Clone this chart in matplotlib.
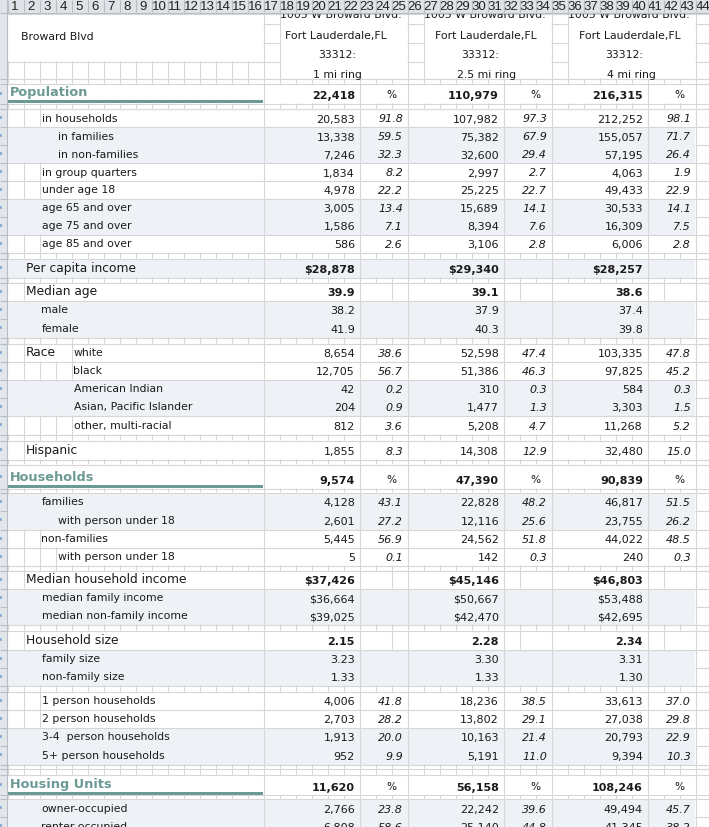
import matplotlib
matplotlib.use('Agg')
import matplotlib.pyplot as plt
from matplotlib.patches import Rectangle
from matplotlib.collections import LineCollection

# ---- data ----
address = '1005 W Broward Blvd:'
city = 'Fort Lauderdale,FL'
zipcode = '33312:'
rings = ['1 mi ring', '2.5 mi ring', '4 mi ring']
site_label = 'Broward Blvd'

pop_total = [22418, 110979, 216315]
pop_labels = ['in households', 'in families', 'in non-families', 'in group quarters',
              'under age 18', 'age 65 and over', 'age 75 and over', 'age 85 and over']
pop_counts = [[20583, 13338, 7246, 1834, 4978, 3005, 1586, 586],
              [107982, 75382, 32600, 2997, 25225, 15689, 8394, 3106],
              [212252, 155057, 57195, 4063, 49433, 30533, 16309, 6006]]
pop_pct = [[91.8, 59.5, 32.3, 8.2, 22.2, 13.4, 7.1, 2.6],
           [97.3, 67.9, 29.4, 2.7, 22.7, 14.1, 7.6, 2.8],
           [98.1, 71.7, 26.4, 1.9, 22.9, 14.1, 7.5, 2.8]]

per_capita_income = [28878, 29340, 28257]
median_age = [39.9, 39.1, 38.6]
median_age_male = [38.2, 37.9, 37.4]
median_age_female = [41.9, 40.3, 39.8]

race_labels = ['white', 'black', 'American Indian', 'Asian, Pacific Islander', 'other, multi-racial']
race_counts = [[8654, 12705, 42, 204, 812],
               [52598, 51386, 310, 1477, 5208],
               [103335, 97825, 584, 3303, 11268]]
race_pct = [[38.6, 56.7, 0.2, 0.9, 3.6],
            [47.4, 46.3, 0.3, 1.3, 4.7],
            [47.8, 45.2, 0.3, 1.5, 5.2]]
hispanic = [1855, 14308, 32480]
hispanic_pct = [8.3, 12.9, 15.0]

hh_total = [9574, 47390, 90839]
hh_labels = ['families', 'with person under 18', 'non-families', 'with person under 18']
hh_counts = [[4128, 2601, 5445, 5],
             [22828, 12116, 24562, 142],
             [46817, 23755, 44022, 240]]
hh_pct = [[43.1, 27.2, 56.9, 0.1],
          [48.2, 25.6, 51.8, 0.3],
          [51.5, 26.2, 48.5, 0.3]]
median_hh_income = [37426, 45146, 46803]
median_family_income = [36664, 50667, 53488]
median_nonfamily_income = [39025, 42470, 42695]
hh_size = [2.15, 2.28, 2.34]
family_size = [3.23, 3.30, 3.31]
nonfamily_size = [1.33, 1.33, 1.30]

size_labels = ['1 person households', '2 person households', '3-4  person households', '5+ person households']
size_counts = [[4006, 2703, 1913, 952],
               [18236, 13802, 10163, 5191],
               [33613, 27038, 20793, 9394]]
size_pct = [[41.8, 28.2, 20.0, 9.9],
            [38.5, 29.1, 21.4, 11.0],
            [37.0, 29.8, 22.9, 10.3]]

housing_total = [11620, 56158, 108246]
housing_labels = ['owner-occupied', 'renter-occupied']
housing_counts = [[2766, 6808], [22242, 25140], [49494, 41345]]
housing_pct = [[23.8, 58.6], [39.6, 44.8], [45.7, 38.2]]

# ---- look ----
W, H = 709, 828
GRID = '#d6d6d6'
SHADE = '#eef1f6'
TEAL = '#6b9a94'
TXT = '#1a1a1a'
FONT = 'DejaVu Sans'


def cx(k):
    # left edge of spreadsheet column k (1-based), 16 px columns
    return 7 + 16 * (k - 1)


VAL_CELLS = [(cx(17), cx(23)), (cx(26), cx(32)), (cx(35), cx(41))]
PCT_CELLS = [(cx(23), cx(26)), (cx(32), cx(35)), (cx(41), cx(44))]
RIGHT_LINES = [cx(17), cx(23), cx(26), cx(32), cx(35), cx(41), cx(44), cx(45)]
EMPTY_PCT_LINES = [cx(25), cx(33), cx(42)]
PCT_MARK_X = [391, 535, 679]


def count(v):
    return f'{v:,}'


def money(v):
    return f'${v:,}'


def one(v):
    return f'{v:.1f}'


def two(v):
    return f'{v:.2f}'


def col(series, i):
    return [s[i] for s in series]


# ---- build the row list ----
rows = []


def spacer(h):
    rows.append(dict(kind='spacer', h=h))


def title(label, totals, h):
    rows.append(dict(kind='title', h=h, label=label, vals=[count(v) for v in totals]))


def line(label, indent, vals, h=18, pcts=None, shade=False, heading=False, bold=False, pre=None):
    rows.append(dict(kind='data', h=h, label=label, indent=indent, vals=vals,
                     pcts=[one(p) for p in pcts] if pcts else None,
                     shade=shade, heading=heading, bold=bold, pre=pre))


spacer(5)
title('Population', pop_total, 20)
spacer(5)
for i, lab in enumerate(pop_labels):
    line(lab, [3, 4, 4, 3, 3, 3, 3, 3][i], [count(v) for v in col(pop_counts, i)],
         pcts=col(pop_pct, i), shade=i in (1, 2, 5, 6))
spacer(6)
line('Per capita income', 2, [money(v) for v in per_capita_income], h=19, shade=True, heading=True, bold=True)
spacer(5)
line('Median age', 2, [one(v) for v in median_age], heading=True, bold=True)
line('male', 3, [one(v) for v in median_age_male], shade=True)
line('female', 3, [one(v) for v in median_age_female], h=19, shade=True)
spacer(6)
for i, lab in enumerate(race_labels):
    line(lab, 5, [count(v) for v in col(race_counts, i)], h=19 if i == 4 else 18,
         pcts=col(race_pct, i), shade=i in (2, 3), pre='Race' if i == 0 else None)
spacer(6)
line('Hispanic', 2, [count(v) for v in hispanic], h=19, pcts=hispanic_pct, heading=True)
spacer(5)
title('Households', hh_total, 24)
spacer(4)
for i, lab in enumerate(hh_labels):
    line(lab, [3, 4, 3, 4][i], [count(v) for v in col(hh_counts, i)], h=19 if i == 1 else 18,
         pcts=col(hh_pct, i), shade=i in (0, 1))
spacer(5)
line('Median household income', 2, [money(v) for v in median_hh_income], heading=True, bold=True)
line('median family income', 3, [money(v) for v in median_family_income], shade=True)
line('median non-family income', 3, [money(v) for v in median_nonfamily_income], shade=True)
spacer(6)
line('Household size', 2, [two(v) for v in hh_size], h=19, heading=True, bold=True)
line('family size', 3, [two(v) for v in family_size], shade=True)
line('non-family size', 3, [two(v) for v in nonfamily_size], shade=True)
spacer(6)
for i, lab in enumerate(size_labels):
    line(lab, 3, [count(v) for v in col(size_counts, i)], h=19 if i == 3 else 18,
         pcts=col(size_pct, i), shade=i in (2, 3))
spacer(5)
spacer(6)
title('Housing Units', housing_total, 20)
spacer(4)
for i, lab in enumerate(housing_labels):
    line(lab, 3, [count(v) for v in col(housing_counts, i)], pcts=col(housing_pct, i), shade=True)

# ---- draw ----
fig = plt.figure(figsize=(W / 100, H / 100), dpi=100)
ax = fig.add_axes([0, 0, 1, 1])
ax.set_xlim(0, W)
ax.set_ylim(H, 0)
ax.axis('off')

segs = []


def hline(y, x0, x1):
    segs.append([(x0, y + 0.5), (x1, y + 0.5)])


def vline(x, y0, y1):
    segs.append([(x + 0.5, y0), (x + 0.5, y1)])


# header block (rows 14-79)
for y in (24, 43, 62):
    for a, b in [(cx(17), cx(18)), (cx(26), cx(27)), (cx(35), cx(36)), (cx(44), cx(45))]:
        hline(y, a, b)
hline(62, cx(1), cx(17))
hline(14, cx(1), cx(45))
for x in [cx(17), cx(18), cx(26), cx(27), cx(35), cx(36), cx(44)]:
    vline(x, 14, 79)
for k in range(1, 17):
    vline(cx(k), 62, 79)

ax.text(21, 39.5, site_label, fontsize=7.8, family=FONT, color=TXT, va='baseline', zorder=3)
clip = Rectangle((0, 14), W, 65, transform=ax.transData)
for j in range(3):
    for txt, xc, yb in [(address, [341, 485, 629][j], 18.5),
                        (city, [336, 486, 630][j], 38.5),
                        (zipcode, [337, 480, 624][j], 58.3),
                        (rings[j], [337, 487, 631][j], 77.5)]:
        t = ax.text(xc, yb, txt, fontsize=7.8, family=FONT, color=TXT, ha='center', va='baseline', zorder=3)
        t.set_clip_path(clip)

# body rows
y = 79
for r in rows:
    r['y0'], r['y1'] = y, y + r['h']
    y = r['y1']

for n, r in enumerate(rows):
    y0, y1 = r['y0'], r['y1']
    prev_shade = n > 0 and rows[n - 1].get('shade', False)
    top_x0 = cx(44) if (r.get('shade') and prev_shade) else cx(1)
    hline(y0, top_x0, cx(45))

    if r['kind'] == 'spacer':
        for k in range(1, 46):
            vline(cx(k), y0, y1)
        continue

    for x in RIGHT_LINES:
        vline(x, y0, y1)

    if r['kind'] == 'title':
        ax.text(cx(1) + 3, y1 - 8, r['label'], fontsize=9.3, fontweight='bold', family=FONT,
                color=TEAL, va='baseline', zorder=3)
        ax.add_patch(Rectangle((cx(1), y1 - 3), cx(17) - cx(1), 2.6, color=TEAL, lw=0, zorder=2))
        for j in range(3):
            ax.text(VAL_CELLS[j][1] - 4, y1 - 5, r['vals'][j], fontsize=8, fontweight='bold',
                    family=FONT, color=TXT, ha='right', va='baseline', zorder=3)
            ax.text(PCT_MARK_X[j], y1 - 5.5, '%', fontsize=7.6, family=FONT, color=TXT,
                    ha='center', va='baseline', zorder=3)
        continue

    if r['shade']:
        ax.add_patch(Rectangle((cx(1), y0 + 0.5), cx(44) - cx(1), y1 - y0, color=SHADE, lw=0, zorder=0))
    else:
        left_cols = [2, 5] if r['pre'] else range(2, r['indent'] + 1)
        for k in left_cols:
            vline(cx(k), y0, y1)
        if not r['pcts']:
            for x in EMPTY_PCT_LINES:
                vline(x, y0, y1)

    if r['pre']:
        ax.text(cx(2) + 2.5, y1 - 5.5, r['pre'], fontsize=8.8, family=FONT, color=TXT, va='baseline', zorder=3)
    size = 8.8 if r['heading'] else 7.8
    ax.text(cx(r['indent']) + 2.5, y1 - 5.5, r['label'], fontsize=size, family=FONT, color=TXT,
            va='baseline', zorder=3)
    for j in range(3):
        ax.text(VAL_CELLS[j][1] - 4, y1 - 4.5, r['vals'][j], fontsize=8,
                fontweight='bold' if r['bold'] else 'normal', family=FONT, color=TXT,
                ha='right', va='baseline', zorder=3)
        if r['pcts']:
            ax.text(PCT_CELLS[j][1] - 4, y1 - 4.5, r['pcts'][j], fontsize=8, style='italic',
                    family=FONT, color=TXT, ha='right', va='baseline', zorder=3)

ax.add_collection(LineCollection(segs, colors=GRID, linewidths=0.8, zorder=1))

# column header strip
ax.add_patch(Rectangle((0, 0), W, 14, color='#dfe3e8', lw=0, zorder=5))
hdr = [[(0, 13.5), (W, 13.5)]]
for k in range(1, 46):
    hdr.append([(cx(k) + 0.5, 1), (cx(k) + 0.5, 13)])
    ax.text(cx(k) + 8, 7.3, str(k), fontsize=9.5, family='Liberation Sans', color='#222222',
            ha='center', va='center', zorder=6)

# row header strip
ax.add_patch(Rectangle((0, 14), 7, H - 14, color='#e3e6ea', lw=0, zorder=5))
hdr.append([(6.5, 0), (6.5, H)])
for r in rows:
    hdr.append([(0, r['y0'] + 0.5), (7, r['y0'] + 0.5)])
ax.add_collection(LineCollection(hdr, colors='#b8bec6', linewidths=0.8, zorder=6))
marks = [[(1.0, (r['y0'] + r['y1']) / 2 - 1.5), (1.0, (r['y0'] + r['y1']) / 2 + 1.5)]
         for r in rows if r['kind'] != 'spacer']
ax.add_collection(LineCollection(marks, colors='#7ea6d2', linewidths=1.2, zorder=7))

fig.savefig('out.png', dpi=100)
